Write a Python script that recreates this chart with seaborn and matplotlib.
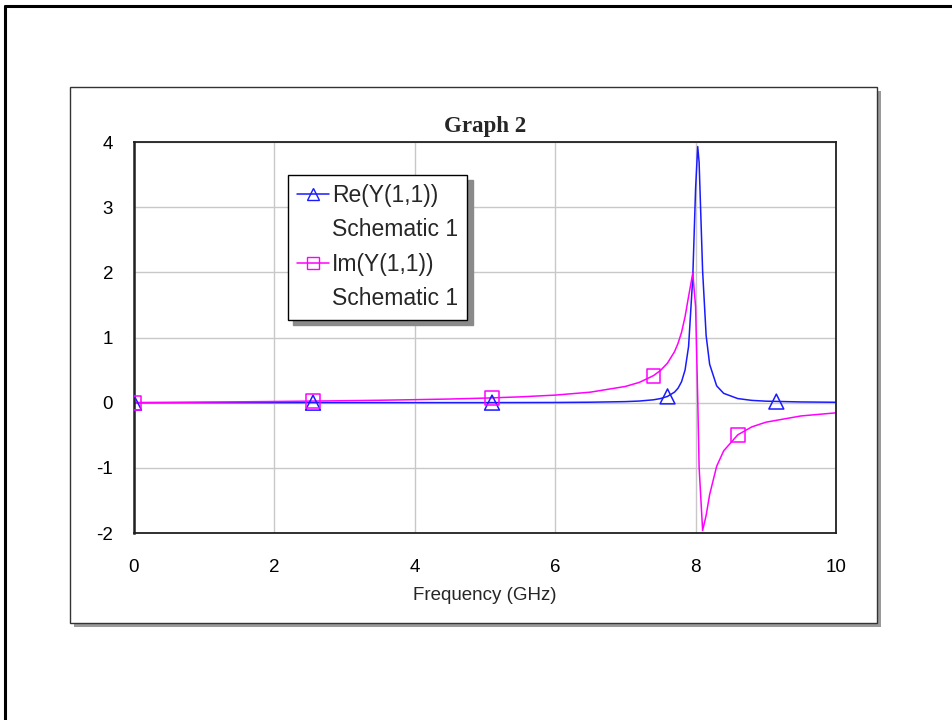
import numpy as np
import pandas as pd
import seaborn as sns
import matplotlib.pyplot as plt
from matplotlib.patches import Rectangle
from matplotlib.lines import Line2D

# values (frequency in GHz)
freq = [0, 0.5, 1, 1.5, 2, 2.5, 3, 3.5, 4, 4.5, 5, 5.5, 6, 6.5, 7, 7.2, 7.4, 7.5,
        7.6, 7.7, 7.75, 7.8, 7.85, 7.9, 7.96, 8.0, 8.03, 8.05, 8.1, 8.15, 8.2,
        8.3, 8.4, 8.6, 8.8, 9.0, 9.5, 10]
re_y = [0, 0, 0, 0, 0, 0.001, 0.001, 0.001, 0.001, 0.001, 0.001, 0.002, 0.003,
        0.007, 0.016, 0.025, 0.044, 0.063, 0.096, 0.162, 0.222, 0.322, 0.502,
        0.862, 1.93, 3.29, 3.93, 3.69, 2.02, 1.03, 0.589, 0.258, 0.143, 0.063,
        0.035, 0.023, 0.011, 0.006]
im_y = [0, 0.004, 0.009, 0.013, 0.018, 0.024, 0.030, 0.037, 0.046, 0.056, 0.070,
        0.089, 0.116, 0.161, 0.249, 0.312, 0.415, 0.494, 0.608, 0.783, 0.911,
        1.08, 1.32, 1.63, 1.99, 1.47, 0.07, -0.99, -1.96, -1.73, -1.41, -0.976,
        -0.739, -0.494, -0.372, -0.300, -0.204, -0.156]

# marker positions on each trace
re_mark_f = [0, 2.55, 5.1, 7.6, 9.15]
re_mark_y = [0, 0, 0.001, 0.096, 0.017]
im_mark_f = [0, 2.55, 5.1, 7.4, 8.6]
im_mark_y = [0, 0.024, 0.073, 0.415, -0.494]

labels = ['Re(Y(1,1))', 'Schematic 1', 'Im(Y(1,1))', 'Schematic 1']
xticks = [0, 2, 4, 6, 8, 10]
yticks = [-2, -1, 0, 1, 2, 3, 4]

BLUE = '#1a1aff'
MAG = '#ff00ff'

sns.set_theme(style='white')
plt.rcParams['font.family'] = ['Liberation Sans', 'DejaVu Sans']

fig = plt.figure(figsize=(9.53, 7.2), dpi=100)
W, H = 953, 720

def fbox(x0, y0, x1, y1):
    # pixel box (top-left origin) -> figure fraction rect
    return (x0 / W, 1 - y1 / H, (x1 - x0) / W, (y1 - y0) / H)

# outer frame (top and left edge only visible)
fig.add_artist(Line2D([5 / W, 1.0], [1 - 6 / H, 1 - 6 / H], color='black', lw=2.2, zorder=-3))
fig.add_artist(Line2D([5 / W, 5 / W], [1 - 6 / H, 0.0], color='black', lw=2.2, zorder=-3))

# inner panel with shadow
x, y, w, h = fbox(74, 91, 881, 627)
fig.add_artist(Rectangle((x, y), w, h, transform=fig.transFigure, fc='#9a9a9a', ec='none', zorder=-2))
x, y, w, h = fbox(70, 87, 877, 623)
fig.add_artist(Rectangle((x, y), w, h, transform=fig.transFigure, fc='white', ec='#333333', lw=1.0, zorder=-1))

ax = fig.add_axes(fbox(134, 142, 836, 533))
ax.set_facecolor('white')

sns.lineplot(x=freq, y=re_y, ax=ax, color=BLUE, lw=1.1, sort=False, estimator=None)
sns.lineplot(x=freq, y=im_y, ax=ax, color=MAG, lw=1.1, sort=False, estimator=None)
sns.scatterplot(x=re_mark_f, y=re_mark_y, ax=ax, marker='^', s=115,
                facecolor='none', edgecolor=BLUE, linewidth=1.1, zorder=3)
sns.scatterplot(x=im_mark_f, y=im_mark_y, ax=ax, marker='s', s=100,
                facecolor='none', edgecolor=MAG, linewidth=1.1, zorder=3)

ax.set_xlim(0, 10)
ax.set_ylim(-2, 4)
ax.set_xticks(xticks)
ax.set_yticks(yticks)
ax.set_xticklabels([str(t) for t in xticks])
ax.set_yticklabels([str(t) for t in yticks])
ax.tick_params(axis='both', length=0, labelsize=13.5, colors='black')
ax.tick_params(axis='y', pad=15)
ax.tick_params(axis='x', pad=18.5)
ax.grid(True, color='#c8c8c8', lw=1.0)
ax.set_axisbelow(True)
for side, sp in ax.spines.items():
    sp.set_visible(True)
    sp.set_color('#202020')
    sp.set_linewidth(1.3)
ax.spines['left'].set_linewidth(1.8)

ax.set_xlabel('Frequency (GHz)', fontsize=13.5, labelpad=8.5)
ax.set_title('Graph 2', fontsize=16.5, fontweight='bold', family='Liberation Serif', pad=7)

blank = Line2D([], [], color='none')
h_re = Line2D([], [], color=BLUE, lw=1.1, marker='^', ms=9, mfc='none', mec=BLUE)
h_im = Line2D([], [], color=MAG, lw=1.1, marker='s', ms=8.5, mfc='none', mec=MAG)
leg = ax.legend([h_re, blank, h_im, blank], labels, loc='upper left',
                bbox_to_anchor=(0.219, 0.916), fontsize=16.5, frameon=True,
                fancybox=False, edgecolor='black', framealpha=1,
                shadow={'ox': 4, 'oy': -4, 'color': '#8a8a8a', 'alpha': 1},
                handlelength=1.4, handletextpad=0.12, borderpad=0.4,
                labelspacing=0.5, borderaxespad=0)
leg.get_frame().set_linewidth(1.0)

fig.savefig('out.png', dpi=100)
